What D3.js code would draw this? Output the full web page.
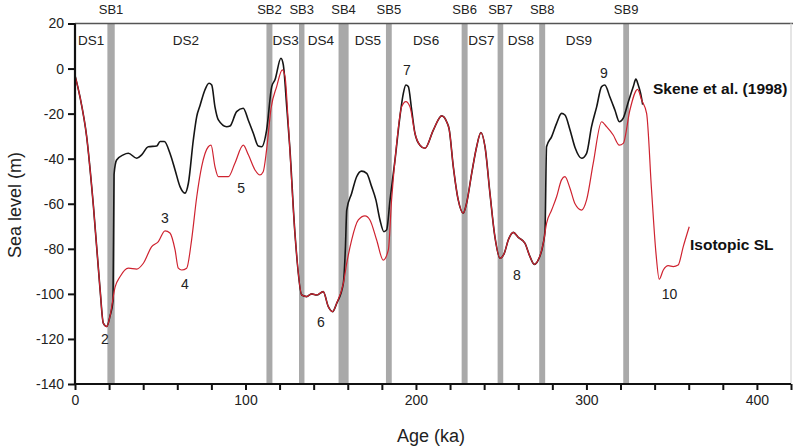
<!DOCTYPE html>
<html>
<head>
<meta charset="utf-8">
<script src="https://cdn.jsdelivr.net/npm/d3@7"></script>
<style>
  html, body { margin: 0; padding: 0; background: #fff; }
  svg { display: block; font-family: "Liberation Sans", Arial, sans-serif; }
</style>
</head>
<body>
<svg id="chart" width="793" height="448"></svg>
<script>
// ---------- data ----------
const xTicksMajor = [0, 100, 200, 300, 400];
const xTicksMinor = [20, 40, 60, 80, 120, 140, 160, 180, 220, 240, 260, 280, 320, 340, 360, 380, 420];
const yTicks = [20, 0, -20, -40, -60, -80, -100, -120, -140];

// Isotopic sea level [age ka, sea level m]
const isotopicSL = [
  [0,-3],[2.9,-12.5],[6.8,-30],[10.8,-61],[14.7,-98],[16.6,-113],[18.6,-114.5],[20.5,-110],[23.5,-97],
  [26.4,-92.4],[31.3,-88.6],[36.2,-89],[40.1,-86.4],[45,-79],[48.9,-76.8],[52.8,-72],[55.7,-73],
  [58.7,-80.5],[60.6,-88.6],[62.6,-89.4],[65.5,-88.6],[68.4,-76],[71.4,-57],[74.3,-43.5],[78.2,-34.7],
  [79.8,-34],[82.1,-43.5],[84.1,-48],[90,-48],[93.8,-42],[98.7,-34],[101.7,-38.3],[105.6,-45],
  [108.5,-47.2],[110.4,-45.8],[112.4,-36],[115,-17.6],[118.3,-8],[121.6,-0.6],[123.2,-3.6],[125.1,-24.3],
  [129,-73],[133,-100.5],[135.9,-101.2],[138.8,-100],[141.8,-100.5],[145.6,-99],[148.6,-105.7],
  [151.1,-107.9],[153.5,-104.2],[157.4,-95.3],[159.4,-86.4],[162.3,-76],[166.2,-67.2],[170.1,-65.4],
  [173,-67.2],[176.9,-76],[180.8,-85],[183.8,-80.5],[185.7,-58.3],[188.7,-33.2],[191.6,-17],[194.1,-14.7],
  [196.5,-17],[199.4,-28.7],[202.3,-34],[205.3,-35.4],[210.2,-27.3],[215.1,-21],[218,-23.6],[219.5,-27],
  [221.9,-43.5],[224.8,-58.3],[227.7,-64.2],[229.7,-59.8],[232.7,-46.5],[235.6,-34.7],[238.1,-28.4],
  [240.5,-34.7],[243.4,-55.3],[246.3,-74.6],[249.3,-84.2],[251.8,-82],[254.2,-76],[257.1,-72.7],
  [260,-74.9],[263.9,-77.5],[266.9,-83.5],[269.4,-86.9],[271.7,-85],[274.7,-77.5],[276.6,-68.7],
  [279.6,-62.8],[282.5,-56.9],[285.4,-49.4],[287.4,-48],[290.3,-53],[293.3,-60],[297.2,-62.8],
  [300.1,-58.3],[304,-42],[308.9,-23.6],[311.8,-25.8],[315.7,-29.5],[319.3,-34],[321.6,-33.2],
  [325.5,-18.4],[330,-9.2],[332.4,-14],[335.3,-19.9],[338.2,-53.9],[340.8,-82],[342.7,-93.5],
  [345.1,-89.4],[348,-87.5],[350.9,-87.9],[353.8,-87.2],[356.8,-79],[360.3,-70.2]
];

// Skene et al. (1998) [age ka, sea level m]
const skeneSL = [
  [0,-3],[2.9,-12.5],[6.8,-30],[10.8,-61],[14.7,-98],[16.6,-113],[18.6,-114.5],[20.5,-110],[22.3,-103],
  [22.9,-47],[24.4,-40.6],[28.3,-38.3],[31.3,-37.6],[36.2,-39.8],[39.1,-38.3],[43,-34.7],[47.9,-34.4],
  [49.9,-32.4],[52.4,-32.4],[55.7,-37.6],[58.7,-45],[61.6,-52.4],[64.5,-55.3],[66.5,-50.9],[69.4,-31.7],
  [71.4,-21.3],[73.3,-16.5],[76.2,-9.5],[78.6,-6.5],[80.2,-7.3],[82.1,-17],[84.1,-22.8],[89,-25.8],
  [90.9,-25.5],[94.8,-19.1],[98.7,-17.6],[101.6,-22.8],[104.6,-28.7],[107.5,-34.4],[109.5,-34.7],
  [112.4,-27.3],[115.4,-8],[117.3,-5],[120.8,4.6],[122.2,1.6],[124.2,-17],[126,-35],[129,-73],
  [133,-100.5],[135.9,-101.2],[138.8,-100],[141.8,-100.5],[145.6,-99],[148.6,-105.7],[151.1,-107.9],
  [153.5,-104.2],[157.4,-95.3],[158.6,-80],[159.4,-62.8],[162.3,-55.3],[165.2,-48],[168.1,-45.5],
  [171.1,-46.5],[174,-52.4],[176.5,-58.3],[178.9,-67.2],[181.2,-72.4],[182.8,-71.6],[184.8,-58.3],
  [187.7,-40.6],[190.6,-21.3],[192.6,-11],[194.1,-7.3],[195.5,-8],[197.5,-18.4],[199.4,-28.7],
  [202.3,-34],[205.3,-35.4],[210.2,-27.3],[215.1,-21],[218,-23.6],[219.5,-27],[221.9,-43.5],[224.8,-58.3],
  [227.7,-64.2],[229.7,-59.8],[232.7,-46.5],[235.6,-34.7],[238.1,-28.4],[240.5,-34.7],[243.4,-55.3],
  [246.3,-74.6],[249.3,-84.2],[251.8,-82],[254.2,-76],[257.1,-72.7],[260,-74.9],[263.9,-77.5],
  [266.9,-83.5],[269.4,-86.9],[271.7,-85],[274.7,-77.5],[275.7,-72],[276.6,-34.7],[279.6,-30.2],
  [282.5,-24.3],[285.4,-19.9],[287.4,-20.6],[290.3,-27],[293.3,-35],[297.2,-39.8],[300.1,-37.6],
  [303,-25.8],[306,-17],[308.9,-8],[310.8,-7.3],[313.7,-12.5],[316.7,-18.4],[319.3,-23.6],[321.6,-22],
  [324.6,-14.7],[327.5,-8],[329,-4.7],[330.4,-7.3],[331.8,-11],[333,-16]
];

// Sequence boundaries (grey bands) [start ka, end ka]
const sbNames = ["SB1","SB2","SB3","SB4","SB5","SB6","SB7","SB8","SB9"];
const sbBands = [[19,23.3],[112.3,115.8],[131.4,134.6],[154.6,160.5],[182.4,185.8],[226.8,230.3],[247.9,251.2],[272.3,275.8],[321.6,325]];

// Depositional sequences (label centre, ka)
const dsNames = ["DS1","DS2","DS3","DS4","DS5","DS6","DS7","DS8","DS9"];
const dsAges = [9.4, 65.1, 123.5, 144.3, 171.8, 205.9, 238.4, 261.6, 295.6];

// Numbered annotations (label centre in data units)
const noteText = ["2","3","4","5","6","7","8","9","10"];
const noteAge  = [17.6, 52.8, 64.5, 97.4, 144.3, 194.7, 259.2, 310.3, 348.8];
const noteSL   = [-120.2, -66.5, -95.8, -53, -112.5, -0.4, -91.6, -2, -100];

// ---------- drawing ----------
const svg = d3.select("#chart");
const x = d3.scaleLinear().domain([0, 420]).range([75, 791]);
const y = d3.scaleLinear().domain([-140, 20]).range([384, 23.5]);
const txt = "#222";
const fmt = d => String(d);

// grey bands
svg.append("g").selectAll("rect").data(sbBands).join("rect")
  .attr("x", d => x(d[0])).attr("width", d => x(d[1]) - x(d[0]))
  .attr("y", y(20)).attr("height", y(-140) - y(20))
  .attr("fill", "#a9a9a9");

// top border and right faint edge
svg.append("line").attr("x1", x(0)).attr("x2", 793).attr("y1", y(20)).attr("y2", y(20))
  .attr("stroke", "#555").attr("stroke-width", 1.3);
svg.append("line").attr("x1", x(420)).attr("x2", x(420)).attr("y1", y(20)).attr("y2", y(-140))
  .attr("stroke", "#ddd").attr("stroke-width", 1.5);

// lines
const line = d3.line().x(d => x(d[0])).y(d => y(d[1])).curve(d3.curveMonotoneX);
svg.append("path").datum(skeneSL).attr("d", line)
  .attr("fill", "none").attr("stroke", "#151515").attr("stroke-width", 1.6).attr("stroke-linejoin", "round");
svg.append("path").datum(isotopicSL).attr("d", line)
  .attr("fill", "none").attr("stroke", "#cf2330").attr("stroke-width", 1.2).attr("stroke-linejoin", "round");

// axes
const xAxis = svg.append("g").attr("transform", `translate(0,${y(-140)})`)
  .call(d3.axisBottom(x).tickValues(xTicksMajor).tickSize(6).tickPadding(5).tickFormat(fmt));
const xMinor = svg.append("g").attr("transform", `translate(0,${y(-140)})`)
  .call(d3.axisBottom(x).tickValues(xTicksMinor).tickSize(6).tickFormat(""));
xMinor.select(".domain").remove();
const yAxis = svg.append("g").attr("transform", `translate(${x(0)},0)`)
  .call(d3.axisLeft(y).tickValues(yTicks).tickSize(7).tickPadding(4).tickFormat(fmt));

[xAxis, xMinor, yAxis].forEach(g => {
  g.selectAll(".domain").attr("stroke", "#111").attr("stroke-width", 2.2);
  g.selectAll(".tick line").attr("stroke", "#111").attr("stroke-width", 2);
  g.selectAll(".tick text").attr("fill", txt).style("font-size", "14px")
    .style("font-family", "'Liberation Sans', Arial, sans-serif");
});
xAxis.select(".domain").attr("d", `M${x(0)},0H${x(420)}`);
yAxis.select(".domain").attr("d", `M0,${y(20)}V${y(-140)}`);

// SB labels
svg.append("g").selectAll("text").data(sbNames).join("text")
  .attr("x", (d, i) => x((sbBands[i][0] + sbBands[i][1]) / 2)).attr("y", 14)
  .attr("text-anchor", "middle").attr("fill", txt).style("font-size", "13px").text(d => d);

// DS labels
svg.append("g").selectAll("text").data(dsNames).join("text")
  .attr("x", (d, i) => x(dsAges[i])).attr("y", 45)
  .attr("text-anchor", "middle").attr("fill", txt).style("font-size", "13.5px").text(d => d);

// numbered annotations
svg.append("g").selectAll("text").data(noteText).join("text")
  .attr("x", (d, i) => x(noteAge[i])).attr("y", (d, i) => y(noteSL[i]))
  .attr("dy", "0.36em").attr("text-anchor", "middle").attr("fill", txt).style("font-size", "14px").text(d => d);

// series labels
svg.append("text").attr("x", 653).attr("y", 94).attr("fill", "#111")
  .style("font-size", "15.5px").style("font-weight", "bold").text("Skene et al. (1998)");
svg.append("text").attr("x", 690).attr("y", 250).attr("fill", "#111")
  .style("font-size", "15.5px").style("font-weight", "bold").text("Isotopic SL");

// axis titles
svg.append("text").attr("x", 431).attr("y", 442).attr("text-anchor", "middle")
  .attr("fill", txt).style("font-size", "18px").text("Age (ka)");
svg.append("text").attr("transform", `translate(21,205) rotate(-90)`).attr("text-anchor", "middle")
  .attr("fill", txt).style("font-size", "18px").text("Sea level (m)");
</script>
</body>
</html>
